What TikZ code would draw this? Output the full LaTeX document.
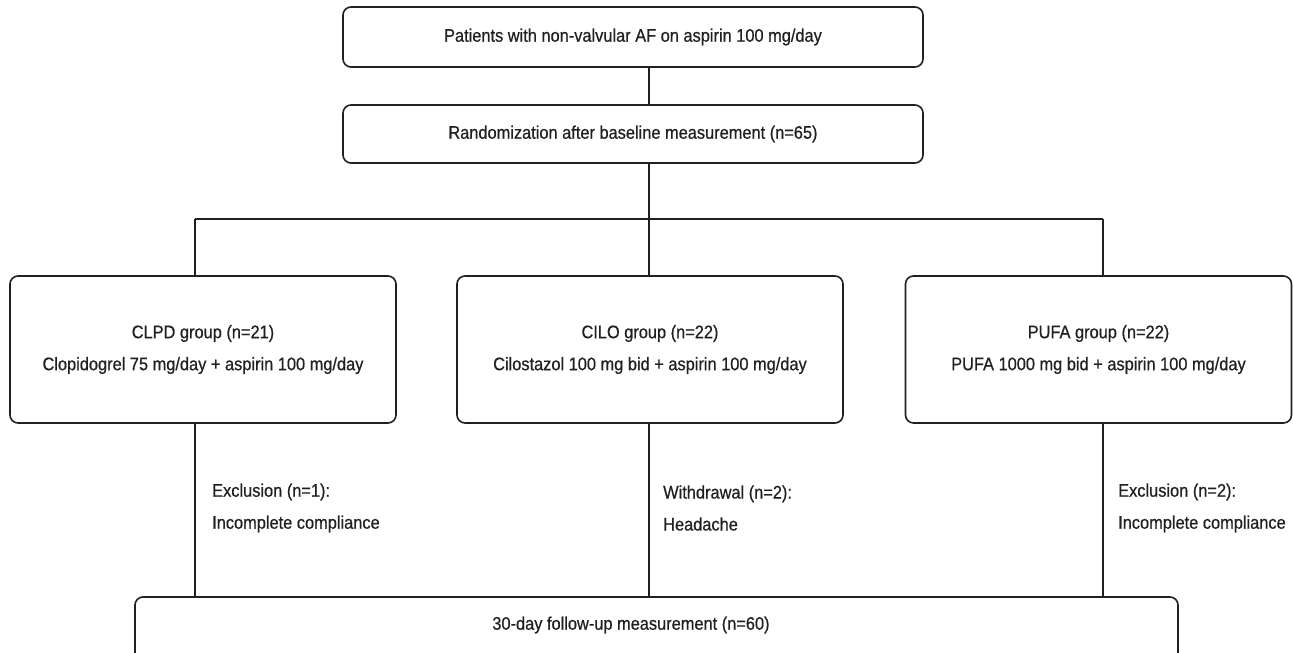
\documentclass[tikz,border=0pt]{standalone}
\usepackage{fontspec}
\setmainfont[FakeStretch=0.9,FakeBold=0.6]{Liberation Sans}
\definecolor{ink}{RGB}{35,31,32}
\begin{document}
\begin{tikzpicture}[x=1pt,y=-1pt,
  box/.style={draw=ink, line width=1.6pt, rounded corners=8pt, inner sep=0pt, text=ink, align=center},
  lbl/.style={text=ink, align=left, inner sep=0pt, anchor=west},
  conn/.style={draw=ink, line width=1.6pt},
  font=\fontsize{18.2}{32}\selectfont]
\useasboundingbox (0,0) rectangle (1293,653);
\clip (0,0) rectangle (1293,653);

\node[box, minimum width=580pt, minimum height=60pt] (pat) at (633,37) {Patients with non-valvular AF on aspirin 100 mg/day};
\node[box, minimum width=580pt, minimum height=58pt] (rand) at (633,134) {Randomization after baseline measurement (n=65)};

\node[box, minimum width=386pt, minimum height=147pt] (clpd) at (203,349.5) {CLPD group (n=21)\\Clopidogrel 75 mg/day + aspirin 100 mg/day};
\node[box, minimum width=386pt, minimum height=147pt] (cilo) at (650,349.5) {CILO group (n=22)\\Cilostazol 100 mg bid + aspirin 100 mg/day};
\node[box, minimum width=386pt, minimum height=147pt] (pufa) at (1098.5,349.5) {PUFA group (n=22)\\PUFA 1000 mg bid + aspirin 100 mg/day};

\node[box, minimum width=1043pt, minimum height=64pt] (fu) at (656.5,629) {};
\node[text=ink, inner sep=0pt] (fut) at (631,625) {30-day follow-up measurement (n=60)};

\coordinate (xa) at (195,0);
\coordinate (xb) at (649,0);
\coordinate (xc) at (1103,0);
\coordinate (hy) at (0,219);

\draw[conn] (pat.south -| xb) -- (rand.north -| xb);
\draw[conn] (rand.south -| xb) -- (hy -| xb);
\draw[conn] (hy -| xa) -- (hy -| xc);
\draw[conn] (hy -| xa) -- (clpd.north -| xa);
\draw[conn] (hy -| xc) -- (pufa.north -| xc);
\draw[conn] (hy -| xb) -- (cilo.north -| xb);

\draw[conn] (clpd.south -| xa) -- (fu.north -| xa);
\draw[conn] (cilo.south -| xb) -- (fu.north -| xb);
\draw[conn] (pufa.south -| xc) -- (fu.north -| xc);

\node[lbl] (ex1) at (212,508) {Exclusion (n=1):\\Incomplete compliance};
\node[lbl] (ex2) at (663,508) {Withdrawal (n=2):\\Headache};
\node[lbl] (ex3) at (1118,508) {Exclusion (n=2):\\Incomplete compliance};
\end{tikzpicture}
\end{document}
